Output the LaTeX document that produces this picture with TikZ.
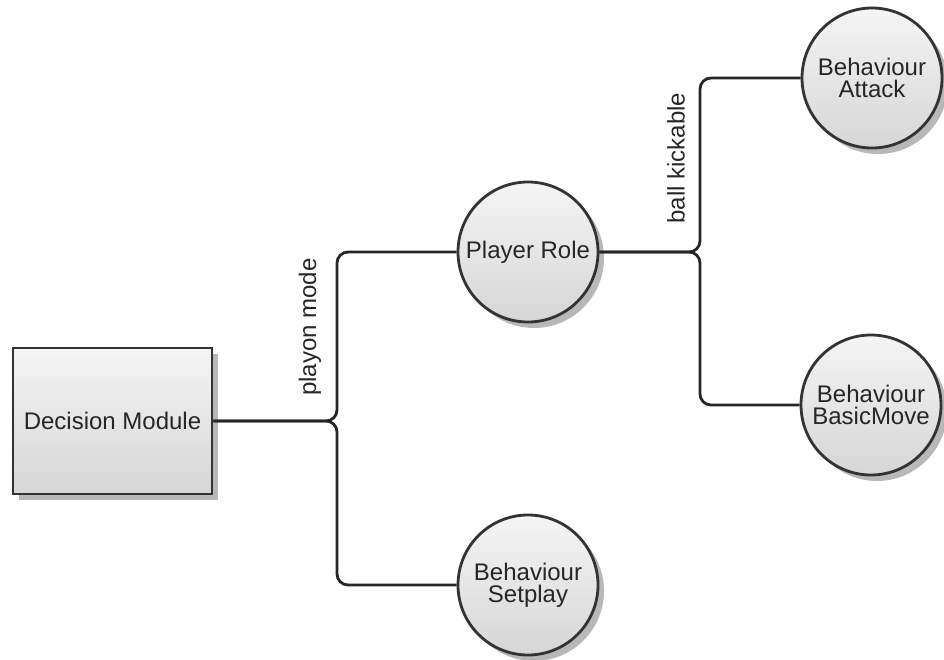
\documentclass[tikz,border=0pt]{standalone}
\usepackage{fontspec}
\setmainfont{Liberation Sans}
\usetikzlibrary{shadows}
\begin{document}
\begin{tikzpicture}[x=1pt,y=-1pt,
  every node/.style={font=\fontsize{24}{26}\selectfont, text=black!85},
  shade3d/.style={top color=white!96!black, bottom color=black!16, draw=black!80, line width=2.8pt,
    drop shadow={shadow xshift=6pt, shadow yshift=-6pt, fill=black!35, opacity=0.8}},
  modbox/.style={shade3d, rectangle, minimum width=199pt, minimum height=146pt, inner sep=0pt},
  stage/.style={shade3d, circle, minimum size=140pt, inner sep=0pt, align=center},
  wire/.style={draw=black!85, line width=2.8pt, rounded corners=11pt},
  cond/.style={rotate=90, inner sep=0pt}
]
\useasboundingbox (0,0) rectangle (944,660);

% nodes
\node[modbox] (dm) at (112.5,421) {Decision Module};
\node[stage] (pr) at (528,252) {Player Role};
\node[stage] (sp) at (528,585) {Behaviour\\[-4pt]Setplay};
\node[stage] (ba) at (872,78) {Behaviour\\[-4pt]Attack};
\node[stage] (bm) at (871,405) {Behaviour\\[-4pt]BasicMove};

% branch junctions
\coordinate (j1) at (337,421);
\coordinate (j2) at (700,252);

% connectors
\draw[wire] (dm.east) -- (j1) -- (j1 |- pr.west) -- (pr.west);
\draw[wire] (dm.east) -- (j1) -- (j1 |- sp.west) -- (sp.west);
\draw[wire] (pr.east) -- (j2) -- (j2 |- ba.west) -- (ba.west);
\draw[wire] (pr.east) -- (j2) -- (j2 |- bm.west) -- (bm.west);

% branch conditions
\node[cond] (l1) at (310,327) {playon mode};
\node[cond] (l2) at (676,158) {ball kickable};
\end{tikzpicture}
\end{document}
